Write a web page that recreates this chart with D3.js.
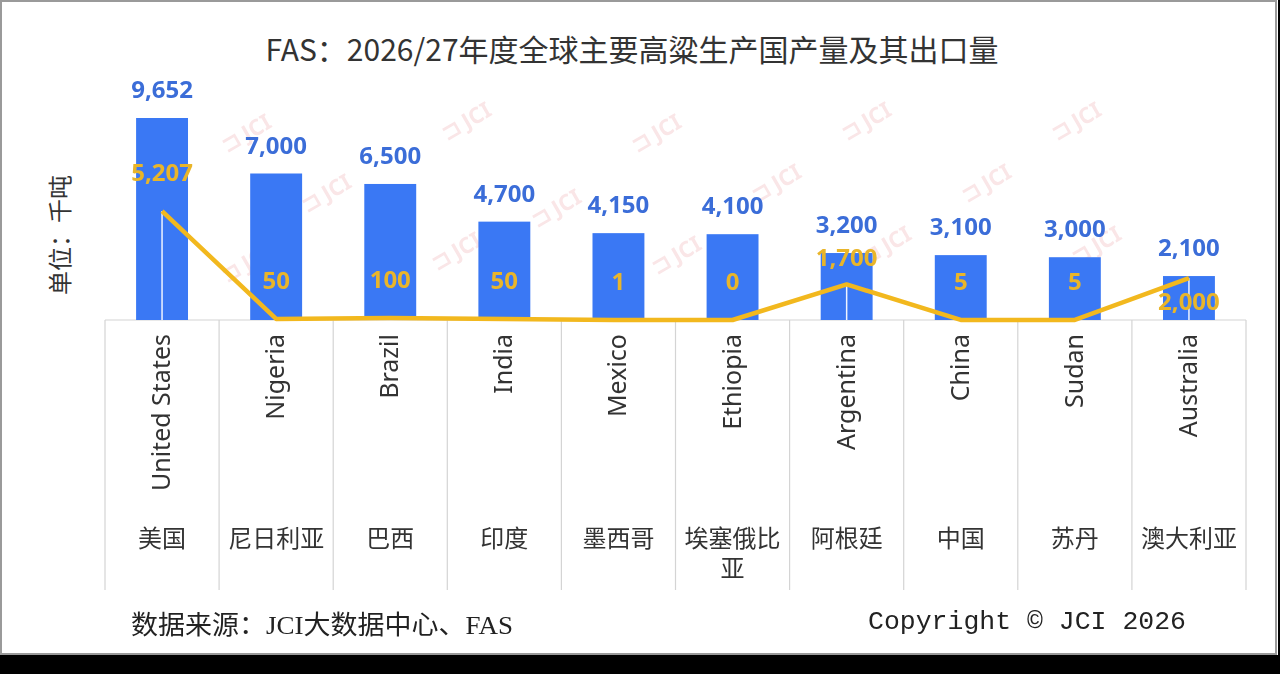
<!DOCTYPE html>
<html>
<head>
<meta charset="utf-8">
<script src="https://cdn.jsdelivr.net/npm/d3@7"></script>
<style>
  html, body { margin: 0; padding: 0; background: #000; }
  svg { display: block; }
</style>
</head>
<body>
<div id="graph"></div>
<script>
// Data (thousand tonnes)
const countriesEn = ["United States", "Nigeria", "Brazil", "India", "Mexico",
  "Ethiopia", "Argentina", "China", "Sudan", "Australia"];
const countriesZh = ["美国", "尼日利亚", "巴西", "印度", "墨西哥",
  "埃塞俄比亚", "阿根廷", "中国", "苏丹", "澳大利亚"];
const production = [9652, 7000, 6500, 4700, 4150, 4100, 3200, 3100, 3000, 2100];
const exportsQty = [5207, 50, 100, 50, 1, 0, 1700, 5, 5, 2000];

const titleText = "FAS：2026/27年度全球主要高粱生产国产量及其出口量";
const unitText = "单位：千吨";
const sourceText = "数据来源：JCI大数据中心、FAS";
const copyrightText = "Copyright © JCI 2026";

const width = 1280, height = 674;
const plot = { left: 105, right: 1246, base: 320, top: 118, gridBottom: 590 };

const barColor = "#3a78f4";
const barLabelColor = "#3b6dd8";
const lineColor = "#f2b81e";
const lineLabelColor = "#e9b52a";
const cjk = "'Noto Sans CJK SC', 'Noto Sans', sans-serif";

const svg = d3.select("#graph").append("svg")
  .attr("width", width)
  .attr("height", height);

// page background + frame
svg.append("rect").attr("width", width).attr("height", height).attr("fill", "#000");
svg.append("rect")
  .attr("x", 0).attr("y", 0).attr("width", 1278).attr("height", 655)
  .attr("fill", "#fff");
svg.append("rect")
  .attr("x", 1).attr("y", 1).attr("width", 1275).attr("height", 653)
  .attr("fill", "none").attr("stroke", "#9a9a9a").attr("stroke-width", 2);

const x = d3.scaleBand()
  .domain(countriesEn)
  .range([plot.left, plot.right])
  .paddingInner(0)
  .paddingOuter(0);

const y = d3.scaleLinear()
  .domain([0, d3.max(production)])
  .range([plot.base, plot.top]);

const barW = x.bandwidth() * 0.455;
const cx = d => x(d) + x.bandwidth() / 2;

// faint watermarks
const wm = svg.append("g").attr("opacity", 0.18);
[[250, 140], [470, 128], [660, 140], [870, 128], [1080, 128],
 [330, 200], [560, 215], [780, 190], [990, 190],
 [250, 270], [460, 258], [680, 262], [890, 252], [1100, 252]].forEach(([wx, wy]) => {
  wm.append("text")
    .attr("transform", `translate(${wx},${wy}) rotate(-30)`)
    .attr("text-anchor", "middle")
    .style("font-family", "'Noto Sans', sans-serif")
    .style("font-size", "22px")
    .style("font-weight", "bold")
    .attr("fill", "#e0707a")
    .text("⊐ JCI");
});

// title
svg.append("text")
  .attr("x", 632).attr("y", 61)
  .attr("text-anchor", "middle")
  .style("font-family", cjk)
  .style("font-size", "30px")
  .attr("fill", "#333")
  .text(titleText);

// unit label
svg.append("text")
  .attr("transform", "translate(69,235) rotate(-90)")
  .attr("text-anchor", "middle")
  .style("font-family", cjk)
  .style("font-size", "24px")
  .attr("fill", "#333")
  .text(unitText);

// category grid (table-like axis)
const grid = svg.append("g").attr("stroke", "#d4d4d4").attr("stroke-width", 1.2);
const edges = countriesEn.map(d => x(d)).concat([plot.right]);
edges.forEach(ex => {
  grid.append("line")
    .attr("x1", ex).attr("x2", ex)
    .attr("y1", plot.base).attr("y2", plot.gridBottom);
});
grid.append("line")
  .attr("x1", plot.left).attr("x2", plot.right)
  .attr("y1", plot.base).attr("y2", plot.base);

// bars
svg.append("g").selectAll("rect")
  .data(countriesEn)
  .join("rect")
  .attr("x", d => cx(d) - barW / 2)
  .attr("y", (d, i) => y(production[i]))
  .attr("width", barW)
  .attr("height", (d, i) => plot.base - y(production[i]))
  .attr("fill", barColor);

// drop lines from export points
svg.append("g").selectAll("line")
  .data(countriesEn)
  .join("line")
  .attr("x1", d => cx(d)).attr("x2", d => cx(d))
  .attr("y1", (d, i) => y(exportsQty[i]))
  .attr("y2", plot.base)
  .attr("stroke", "#eef3ff")
  .attr("stroke-width", 1.5);

// export line
const line = d3.line()
  .x((d, i) => cx(countriesEn[i]))
  .y(d => y(d));
svg.append("path")
  .datum(exportsQty)
  .attr("d", line)
  .attr("fill", "none")
  .attr("stroke", lineColor)
  .attr("stroke-width", 4.5)
  .attr("stroke-linejoin", "round");

const fmt = d3.format(",");

// production labels
svg.append("g").selectAll("text")
  .data(countriesEn)
  .join("text")
  .attr("x", d => cx(d))
  .attr("y", (d, i) => y(production[i]) - 20)
  .attr("text-anchor", "middle")
  .style("font-family", "'Noto Sans', sans-serif")
  .style("font-size", "24px")
  .style("font-weight", "bold")
  .attr("fill", barLabelColor)
  .text((d, i) => fmt(production[i]));

// export labels: offset from the point (Australia's sits below it)
const labelOffset = { "Australia": 32, "Argentina": -18 };
svg.append("g").selectAll("text")
  .data(countriesEn)
  .join("text")
  .attr("x", d => cx(d))
  .attr("y", (d, i) => y(exportsQty[i]) + (labelOffset[d] ?? -30))
  .attr("text-anchor", "middle")
  .style("font-family", "'Noto Sans', sans-serif")
  .style("font-size", "24px")
  .style("font-weight", "bold")
  .attr("fill", lineLabelColor)
  .text((d, i) => fmt(exportsQty[i]));

// English category labels, rotated
svg.append("g").selectAll("text")
  .data(countriesEn)
  .join("text")
  .attr("transform", d => `translate(${cx(d) + 8},${plot.base + 14}) rotate(-90)`)
  .attr("text-anchor", "end")
  .style("font-family", "'Noto Sans', sans-serif")
  .style("font-size", "25px")
  .attr("fill", "#333")
  .text(d => d);

// Chinese category labels, wrapped at 4 characters (one text per line)
const zhG = svg.append("g");
countriesZh.forEach((name, i) => {
  const lines = name.match(/.{1,4}/g);
  lines.forEach((ln, j) => {
    zhG.append("text")
      .attr("x", cx(countriesEn[i]))
      .attr("y", 547 + j * 30)
      .attr("text-anchor", "middle")
      .style("font-family", cjk)
      .style("font-size", "24px")
      .attr("fill", "#333")
      .text(ln);
  });
});

// footer
svg.append("text")
  .attr("x", 131).attr("y", 634)
  .attr("textLength", 382)
  .attr("lengthAdjust", "spacingAndGlyphs")
  .style("font-family", "'Liberation Serif', 'Noto Sans CJK SC', serif")
  .style("font-size", "26px")
  .attr("fill", "#222")
  .text(sourceText);

svg.append("text")
  .attr("x", 868).attr("y", 629)
  .attr("textLength", 318)
  .attr("lengthAdjust", "spacingAndGlyphs")
  .style("font-family", "'Liberation Mono', monospace")
  .style("font-size", "26px")
  .attr("fill", "#222")
  .text(copyrightText);
</script>
</body>
</html>
